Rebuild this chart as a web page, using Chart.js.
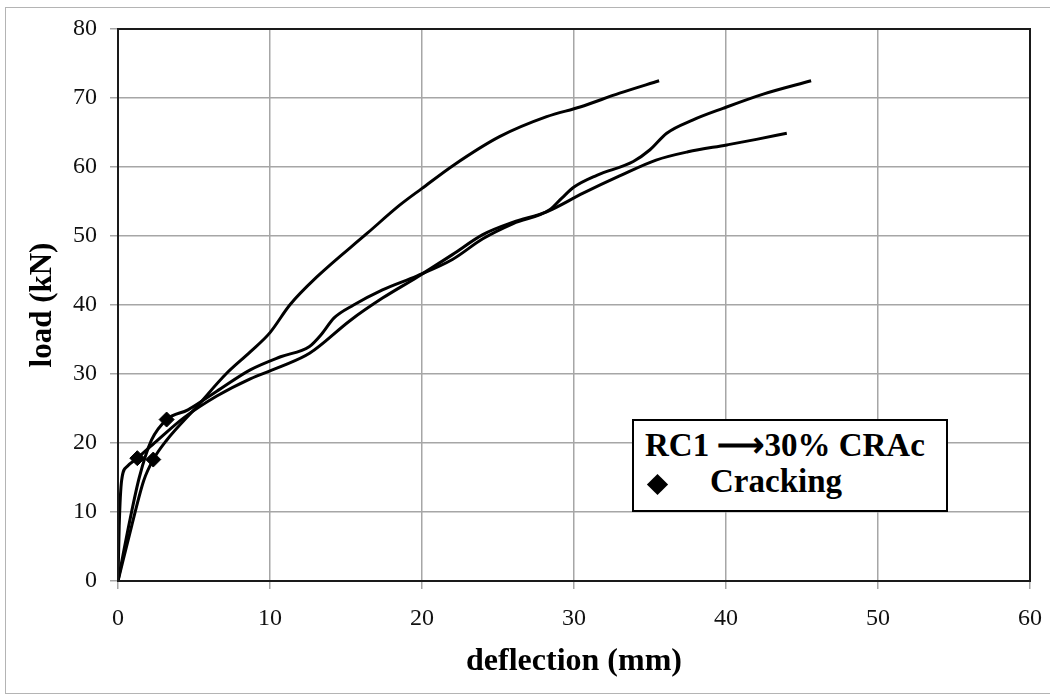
<!DOCTYPE html>
<html>
<head>
<meta charset="utf-8">
<script src="https://cdn.jsdelivr.net/npm/chart.js@4/dist/chart.umd.min.js"></script>
<style>
  html, body { margin: 0; padding: 0; background: #fff; overflow: hidden; }
  #wrap { position: relative; width: 1050px; height: 696px; overflow: hidden; }
  #frame { position: absolute; left: 5px; top: 7px; width: 1060px; height: 687px;
           border: 1px solid #b4b4b4; box-sizing: border-box; }
  #readings { position: absolute; left: 0; top: 0; }
  #key { position: absolute; left: 632px; top: 419px; width: 316px; height: 93px;
         border: 2px solid #000; box-sizing: border-box; background: #fff;
         font-family: 'Liberation Serif', 'Times New Roman', serif; font-weight: bold;
         font-size: 33px; line-height: 33px; color: #000; }
  #key .row { position: absolute; white-space: nowrap; }
  #key .mark { position: absolute; left: 16px; top: 56px; width: 15px; height: 15px;
               background: #000; transform: rotate(45deg); }
</style>
</head>
<body>
<div id="wrap">
  <div id="frame"></div>
  <canvas id="readings" width="1050" height="696"></canvas>
  <div id="key">
    <div class="row" style="left:11px; top:8px;">RC1 ⟶30% CRAc</div>
    <div class="mark"></div>
    <div class="row" style="left:76px; top:44px;">Cracking</div>
  </div>
</div>
<script>
// deflection (mm) / load (kN) for the three specimens
const rc1aDefl = [0, 0.9, 1.7, 2.32, 3.2, 5.2, 7.15, 8.7, 10, 11.3, 13.1, 16.4, 18.55, 20, 22.1, 25.1, 28.2, 30.4, 33, 35.6];
const rc1aLoad = [0, 8, 14.6, 17.6, 20.4, 25.3, 30.1, 33.2, 36.0, 40.0, 44.1, 50.4, 54.5, 56.9, 60.3, 64.4, 67.3, 68.7, 70.7, 72.5];

const rc1bDefl = [0, 0.8, 1.4, 2.2, 3.2, 4.6, 6.5, 8.7, 10.7, 12.6, 13.4, 14.2, 15.5, 17.4, 19.65, 22, 24, 26, 28.4, 29.2, 30, 31.5, 33.9, 35, 36.1, 37.8, 39.8, 42.5, 45.6];
const rc1bLoad = [0, 9, 15, 20.4, 23.4, 24.8, 27.5, 30.6, 32.5, 34.0, 35.8, 38.1, 40.0, 42.2, 44.2, 46.6, 49.6, 51.8, 53.8, 55.5, 57.1, 58.8, 60.8, 62.5, 64.9, 66.8, 68.5, 70.6, 72.5];

const rc1cDefl = [0, 0.08, 0.24, 0.6, 1.27, 2.5, 4.3, 6.5, 8.7, 10.7, 12.6, 15.3, 17.4, 19.65, 22, 24, 26, 28.2, 30.6, 33, 35.4, 37.5, 40.05, 42, 44];
const rc1cLoad = [0, 8, 14.6, 16.6, 17.8, 20.2, 23.6, 26.8, 29.3, 31.06, 33.0, 37.8, 41.0, 44.0, 47.3, 50.2, 52.0, 53.5, 56.2, 58.7, 61.0, 62.2, 63.2, 64.0, 64.9];

// first cracking points
const crackDefl = [1.27, 2.32, 3.2];
const crackLoad = [17.8, 17.6, 23.4];

const xTicks = [0, 10, 20, 30, 40, 50, 60];
const yTicks = [0, 10, 20, 30, 40, 50, 60, 70, 80];

const pairs = (xs, ys) => xs.map((x, i) => ({ x: x, y: ys[i] }));

const curve = (xs, ys) => ({
    data: pairs(xs, ys),
    showLine: true,
    borderColor: '#000',
    borderWidth: 3,
    pointRadius: 0,
    cubicInterpolationMode: 'monotone',
    fill: false
});

const serif = "'Liberation Serif', 'Times New Roman', serif";

// black frame round the plot area
const plotBorder = {
    id: 'plotBorder',
    afterDatasetsDraw(chart) {
        const { ctx, chartArea: a } = chart;
        ctx.save();
        ctx.strokeStyle = '#1a1a1a';
        ctx.lineWidth = 2;
        ctx.strokeRect(a.left, a.top, a.right - a.left, a.bottom - a.top);
        ctx.restore();
    }
};

let chart = new Chart('readings', {
    type: 'scatter',
    data: {
        datasets: [
            {
                data: pairs(crackDefl, crackLoad),
                pointStyle: 'rectRot',
                pointRadius: 7.5,
                backgroundColor: '#000',
                borderColor: '#000',
                borderWidth: 1
            },
            curve(rc1aDefl, rc1aLoad),
            curve(rc1bDefl, rc1bLoad),
            curve(rc1cDefl, rc1cLoad)
        ]
    },
    options: {
        responsive: false,
        animation: false,
        layout: { padding: { left: 14, right: 20, top: 29, bottom: 13 } },
        plugins: { legend: { display: false }, tooltip: { enabled: false } },
        scales: {
            x: {
                type: 'linear',
                min: 0, max: 60,
                afterBuildTicks: (s) => { s.ticks = xTicks.map(v => ({ value: v })); },
                afterFit: (s) => { s.height = 102; s.paddingLeft = 0; s.paddingRight = 0; },
                grid: { color: '#a6a6a6', lineWidth: 1.5, tickLength: 8 },
                border: { display: false },
                ticks: { color: '#111', padding: 15, font: { family: serif, size: 24 } },
                title: {
                    display: true, text: 'deflection (mm)', color: '#000',
                    padding: { top: 0, bottom: 2 },
                    font: { family: serif, size: 32, weight: 'bold' }
                }
            },
            y: {
                type: 'linear',
                min: 0, max: 80,
                afterBuildTicks: (s) => { s.ticks = yTicks.map(v => ({ value: v })); },
                afterFit: (s) => { s.width = 104; },
                grid: { color: '#a6a6a6', lineWidth: 1.5, tickLength: 8 },
                border: { display: false },
                ticks: { color: '#111', padding: 13, font: { family: serif, size: 24 } },
                title: {
                    display: true, text: 'load (kN)', color: '#000',
                    padding: { top: 10, bottom: 0 },
                    font: { family: serif, size: 31, weight: 'bold' }
                }
            }
        }
    },
    plugins: [plotBorder]
});
</script>
</body>
</html>
